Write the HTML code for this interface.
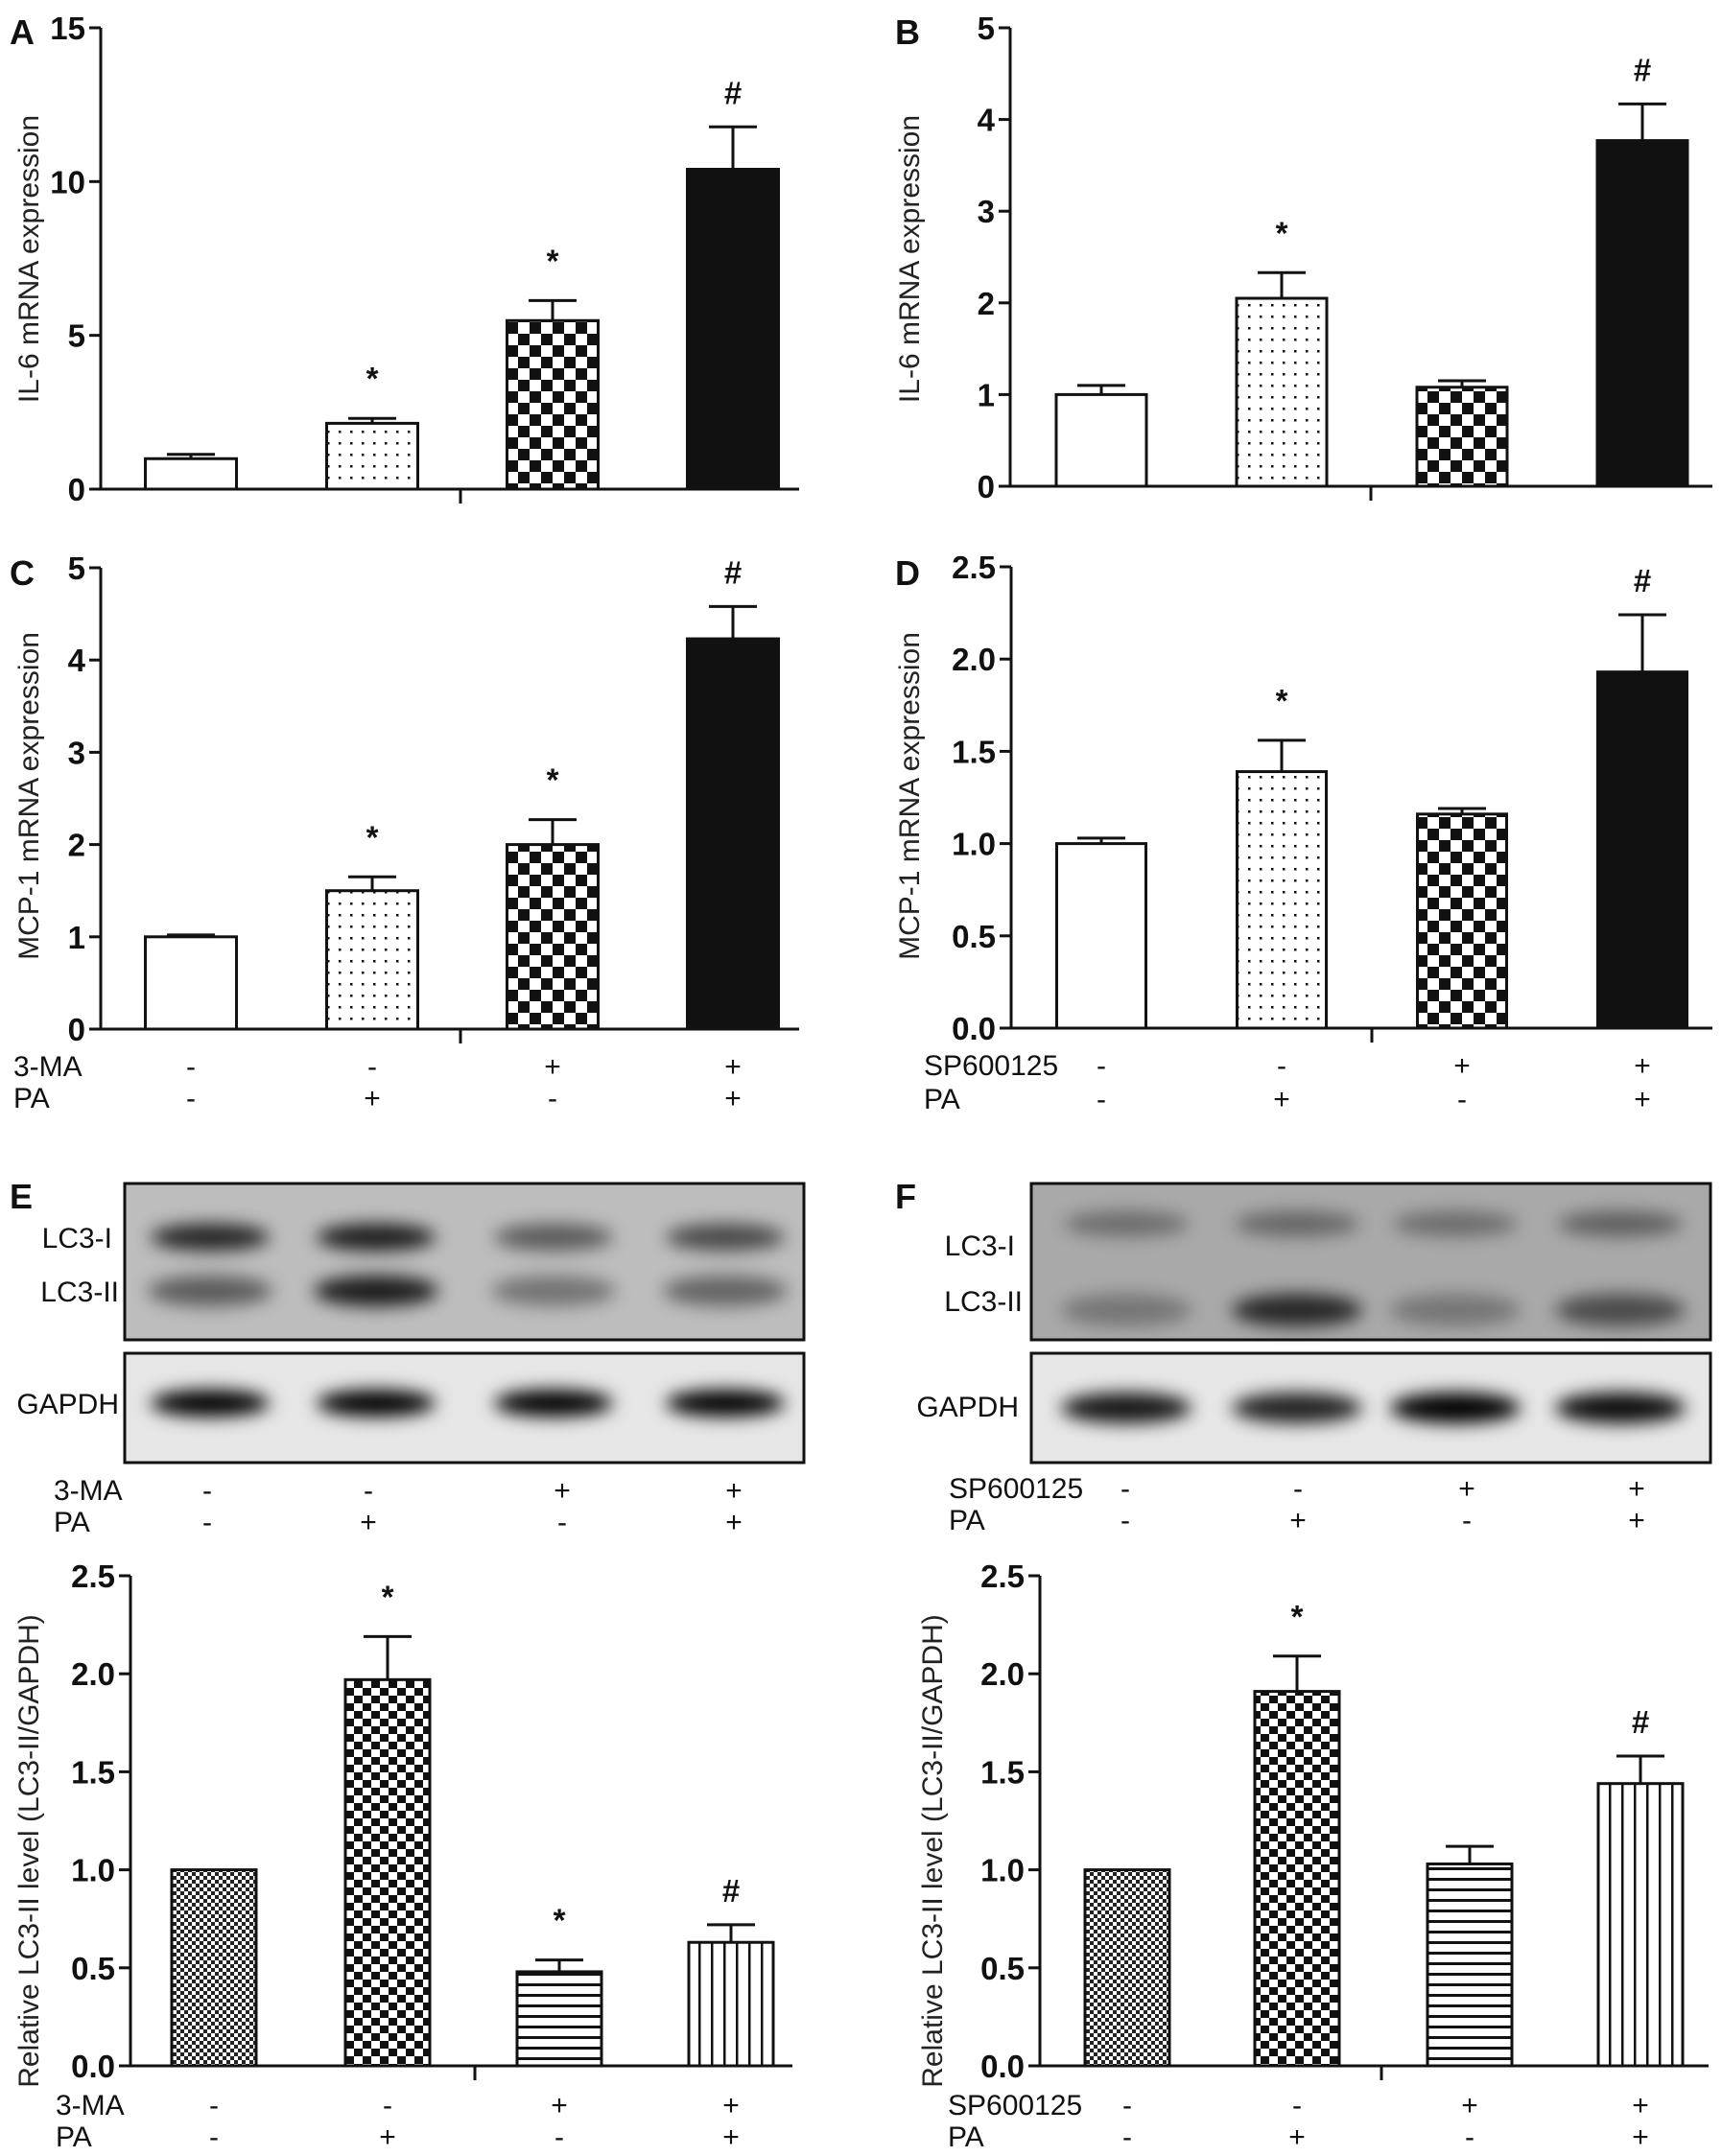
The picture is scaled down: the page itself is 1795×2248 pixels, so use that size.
<!DOCTYPE html>
<html><head><meta charset="utf-8"><style>
html,body{margin:0;padding:0;background:#fff;}
svg{display:block;}
.tk{font-family:"Liberation Sans Narrow","Liberation Sans",sans-serif;font-weight:bold;font-size:33px;fill:#111;}
.tt{font-family:"Liberation Sans",sans-serif;font-size:30px;fill:#222;}
.lb{font-family:"Liberation Sans Narrow","Liberation Sans",sans-serif;font-size:30px;fill:#111;}
.pl{font-family:"Liberation Sans",sans-serif;font-weight:bold;font-size:36px;fill:#111;}
.sg{font-family:"Liberation Sans",sans-serif;font-size:30px;fill:#111;}
</style></head><body>
<svg id="fig" width="1795" height="2248" viewBox="0 0 1795 2248" xmlns="http://www.w3.org/2000/svg">
<defs>
<pattern id="p-dots" width="12" height="12" patternUnits="userSpaceOnUse"><rect width="12" height="12" fill="#fff"/><rect x="5" y="5" width="2.5" height="2.5" fill="#111"/></pattern>
<pattern id="p-check" width="24" height="24" patternUnits="userSpaceOnUse"><rect width="24" height="24" fill="#fff"/><rect x="0" y="0" width="12" height="12" fill="#111"/><rect x="12" y="12" width="12" height="12" fill="#111"/></pattern>
<pattern id="p-check2" width="18" height="16" patternUnits="userSpaceOnUse"><rect width="18" height="16" fill="#fff"/><rect x="0" y="0" width="9" height="8" fill="#111"/><rect x="9" y="8" width="9" height="8" fill="#111"/></pattern>
<pattern id="p-fine" width="8" height="8" patternUnits="userSpaceOnUse"><rect width="8" height="8" fill="#fff"/><rect x="0" y="0" width="4" height="4" fill="#222"/><rect x="4" y="4" width="4" height="4" fill="#222"/></pattern>
<pattern id="p-hlines" width="10" height="11" patternUnits="userSpaceOnUse"><rect width="10" height="11" fill="#fff"/><rect x="0" y="0" width="10" height="3" fill="#111"/></pattern>
<pattern id="p-vlines" width="13" height="10" patternUnits="userSpaceOnUse"><rect width="13" height="10" fill="#fff"/><rect x="0" y="0" width="2.5" height="10" fill="#111"/></pattern>
<filter id="blur" x="-30%" y="-100%" width="160%" height="300%"><feGaussianBlur stdDeviation="9"/></filter>
</defs>
<g id="charts"></g>
<g id="blots"></g>
</svg>
<script>
// ---- data ----
const groups = ["control", "PA", "inhibitor", "inhibitor+PA"];
const aValues = [0.99, 2.14, 5.48, 10.4];
const aErrors = [0.14, 0.16, 0.65, 1.38];
const aSig = ["", "*", "*", "#"];
const aTicks = ["0", "5", "10", "15"];
const bValues = [1.0, 2.05, 1.08, 3.77];
const bErrors = [0.1, 0.28, 0.07, 0.4];
const bSig = ["", "*", "", "#"];
const bTicks = ["0", "1", "2", "3", "4", "5"];
const cValues = [1.0, 1.5, 2.0, 4.23];
const cErrors = [0.02, 0.15, 0.27, 0.35];
const cSig = ["", "*", "*", "#"];
const cTicks = ["0", "1", "2", "3", "4", "5"];
const dValues = [1.0, 1.39, 1.16, 1.93];
const dErrors = [0.03, 0.17, 0.03, 0.31];
const dSig = ["", "*", "", "#"];
const dTicks = ["0.0", "0.5", "1.0", "1.5", "2.0", "2.5"];
const eValues = [1.0, 1.97, 0.48, 0.63];
const eErrors = [0, 0.22, 0.06, 0.09];
const eSig = ["", "*", "*", "#"];
const fValues = [1.0, 1.91, 1.03, 1.44];
const fErrors = [0, 0.18, 0.09, 0.14];
const fSig = ["", "*", "", "#"];
const lcTicks = ["0.0", "0.5", "1.0", "1.5", "2.0", "2.5"];
const inhibA = ["-", "-", "+", "+"];
const paSigns = ["-", "+", "-", "+"];
// blot band intensities (0..1 darkness)
const eLC3I = [0.85, 0.9, 0.55, 0.65];
const eLC3II = [0.6, 1.0, 0.45, 0.55];
const eGAPDH = [1, 1, 1, 1];
const fLC3I = [0.45, 0.5, 0.45, 0.55];
const fLC3II = [0.35, 0.9, 0.35, 0.65];
const fGAPDH = [0.9, 0.85, 1, 0.95];

const NS = "http://www.w3.org/2000/svg";
function mk(parent, tag, attrs, text){
  const el = document.createElementNS(NS, tag);
  for (const k in attrs) el.setAttribute(k, attrs[k]);
  if (text !== undefined) el.textContent = text;
  parent.appendChild(el);
  return el;
}
const charts = document.getElementById('charts');

function chart(cfg){
  const g = mk(charts, 'g', {});
  
  
  const max = parseFloat(cfg.ticks[cfg.ticks.length-1]);
  const y = v => cfg.y0 - (v/max)*(cfg.y0 - cfg.yTop);
  const x = i => cfg.centers[i];
  cfg.values.forEach((v,i)=>{
    const top = y(v);
    const r = mk(g,'rect',{x:x(i)-cfg.bw/2, y:top, width:cfg.bw, height:cfg.y0-top, fill:cfg.fills[i], stroke:'#111','stroke-width':3});
    
    
    if (cfg.errors[i] > 0){
      const et = y(v + cfg.errors[i]);
      const e = mk(g,'path',{d:`M${x(i)} ${top} V${et} M${x(i)-25} ${et} H${x(i)+25}`, stroke:'#111','stroke-width':3, fill:'none'});
      
      
    }
    if (cfg.sig[i]){
      const et = y(v + cfg.errors[i]);
      const s = mk(g,'text',{x:x(i), y:et-(cfg.sig[i]==='#'?24:30), 'text-anchor':'middle', class:'tk', 'font-size':'30'}, cfg.sig[i]);
      
      
    }
  });
  const ax = mk(g,'path',{d:`M${cfg.ax} ${cfg.yTop} V${cfg.y0} H${cfg.xEnd} M${cfg.mid} ${cfg.y0} V${cfg.y0+15}`, stroke:'#111','stroke-width':3, fill:'none'});
  
  
  cfg.ticks.forEach(t=>{
    const ty = y(parseFloat(t));
    mk(g,'line',{x1:cfg.ax-12, x2:cfg.ax, y1:ty, y2:ty, stroke:'#111','stroke-width':3});
    const tl = mk(g,'text',{x:cfg.ax-16, y:ty+12, 'text-anchor':'end', class:'tk'}, t);
    
    
  });
  const tt = mk(g,'text',{x:0,y:0,transform:`translate(${cfg.tx},${cfg.ty}) rotate(-90)`, 'text-anchor':'middle', class:'tt', 'font-size':cfg.tfs||30}, cfg.title);
  
  
}

function treat(parent, name, lx, y1, y2, centers, inhib){
  const g = mk(parent,'g',{});
  
  
  mk(g,'text',{x:lx, y:y1, class:'lb'}, name);
  mk(g,'text',{x:lx, y:y2, class:'lb'}, 'PA');
  centers.forEach((c,i)=>{
    mk(g,'text',{x:c, y:y1, 'text-anchor':'middle', class:'sg'}, inhib[i]);
    mk(g,'text',{x:c, y:y2, 'text-anchor':'middle', class:'sg'}, paSigns[i]);
  });
}

const leftC = [199, 388, 576, 764], rightC = [1148, 1336, 1524, 1712];
const fillsTop = ['#fff', 'url(#p-dots)', 'url(#p-check)', '#111'];
const fillsBot = ['url(#p-fine)', 'url(#p-check2)', 'url(#p-hlines)', 'url(#p-vlines)'];

chart({name:'chart-a-il6', values:aValues, errors:aErrors, sig:aSig, ticks:aTicks, ax:105, yTop:29, y0:510, xEnd:833, mid:480, centers:leftC, bw:95, fills:fillsTop, title:'IL-6 mRNA expression', tx:40, ty:270});
chart({name:'chart-b-il6', values:bValues, errors:bErrors, sig:bSig, ticks:bTicks, ax:1053, yTop:29, y0:507, xEnd:1785, mid:1429, centers:rightC, bw:94, fills:fillsTop, title:'IL-6 mRNA expression', tx:958, ty:270});
chart({name:'chart-c-mcp1', values:cValues, errors:cErrors, sig:cSig, ticks:cTicks, ax:105, yTop:592, y0:1073, xEnd:833, mid:480, centers:leftC, bw:95, fills:fillsTop, title:'MCP-1 mRNA expression', tx:40, ty:830});
chart({name:'chart-d-mcp1', values:dValues, errors:dErrors, sig:dSig, ticks:dTicks, ax:1054, yTop:591, y0:1072, xEnd:1785, mid:1430, centers:rightC, bw:93, fills:fillsTop, title:'MCP-1 mRNA expression', tx:958, ty:830});
chart({name:'chart-e-lc3', values:eValues, errors:eErrors, sig:eSig, ticks:lcTicks, ax:136, yTop:1643, y0:2154, xEnd:826, mid:495, centers:[223,404,583,762], bw:88, fills:fillsBot, title:'Relative LC3-II level (LC3-II/GAPDH)', tx:40, ty:1930, tfs:32});
chart({name:'chart-f-lc3', values:fValues, errors:fErrors, sig:fSig, ticks:lcTicks, ax:1084, yTop:1643, y0:2154, xEnd:1781, mid:1440, centers:[1175,1352,1532,1710], bw:88, fills:fillsBot, title:'Relative LC3-II level (LC3-II/GAPDH)', tx:982, ty:1930, tfs:32});

treat(charts, '3-MA', 14, 1122, 1155, leftC, inhibA);
treat(charts, 'SP600125', 963, 1121, 1156, rightC, inhibA);
treat(charts, '3-MA', 56, 1564, 1597, [216,384,586,765], inhibA);
treat(charts, 'SP600125', 989, 1562, 1595, [1173,1353,1529,1706], inhibA);
treat(charts, '3-MA', 58, 2205, 2238, [223,404,583,762], inhibA);
treat(charts, 'SP600125', 988, 2205, 2238, [1175,1352,1532,1710], inhibA);

[['A',10,46],['B',933,46],['C',10,610],['D',933,610],['E',10,1260],['F',933,1260]].forEach(p=>{
  const t = mk(charts,'text',{x:p[1], y:p[2], class:'pl'}, p[0]);
  
  
});

const blots = document.getElementById('blots');
function blot(name, x0, x1, bg, centers, rows){
  const g = mk(blots,'g',{});
  
  
  mk(g,'rect',{x:x0, y:1234, width:x1-x0, height:163, fill:bg, stroke:'#111','stroke-width':3});
  mk(g,'rect',{x:x0, y:1411, width:x1-x0, height:114, fill:'#e6e6e6', stroke:'#111','stroke-width':3});
  rows.forEach(r=>{
    r.vals.forEach((v,i)=>{
      const b = mk(g,'ellipse',{cx:centers[i], cy:r.y, rx:r.rx, ry:r.ry, fill:'#000', opacity:v*r.op, filter:'url(#blur)'});
      
      
    });
    mk(g,'text',{x:r.lx, y:r.ly+11, 'text-anchor':'end', class:'lb'}, r.label);
  });
}
blot('blot-e', 130, 838, '#bdbdbd', [219,392,577,756], [
  {label:'LC3-I', y:1290, ly:1290, vals:eLC3I, rx:62, ry:14, op:0.95, lx:117},
  {label:'LC3-II', y:1346, ly:1346, vals:eLC3II, rx:65, ry:16, op:0.85, lx:124},
  {label:'GAPDH', y:1463, ly:1463, vals:eGAPDH, rx:62, ry:14, op:1, lx:124}
]);
blot('blot-f', 1075, 1783, '#a9a9a9', [1174,1352,1517,1689], [
  {label:'LC3-I', y:1276, ly:1298, vals:fLC3I, rx:65, ry:13, op:0.8, lx:1058},
  {label:'LC3-II', y:1366, ly:1356, vals:fLC3II, rx:68, ry:17, op:0.85, lx:1066},
  {label:'GAPDH', y:1468, ly:1466, vals:fGAPDH, rx:68, ry:16, op:1, lx:1062}
]);
</script>
</body></html>
